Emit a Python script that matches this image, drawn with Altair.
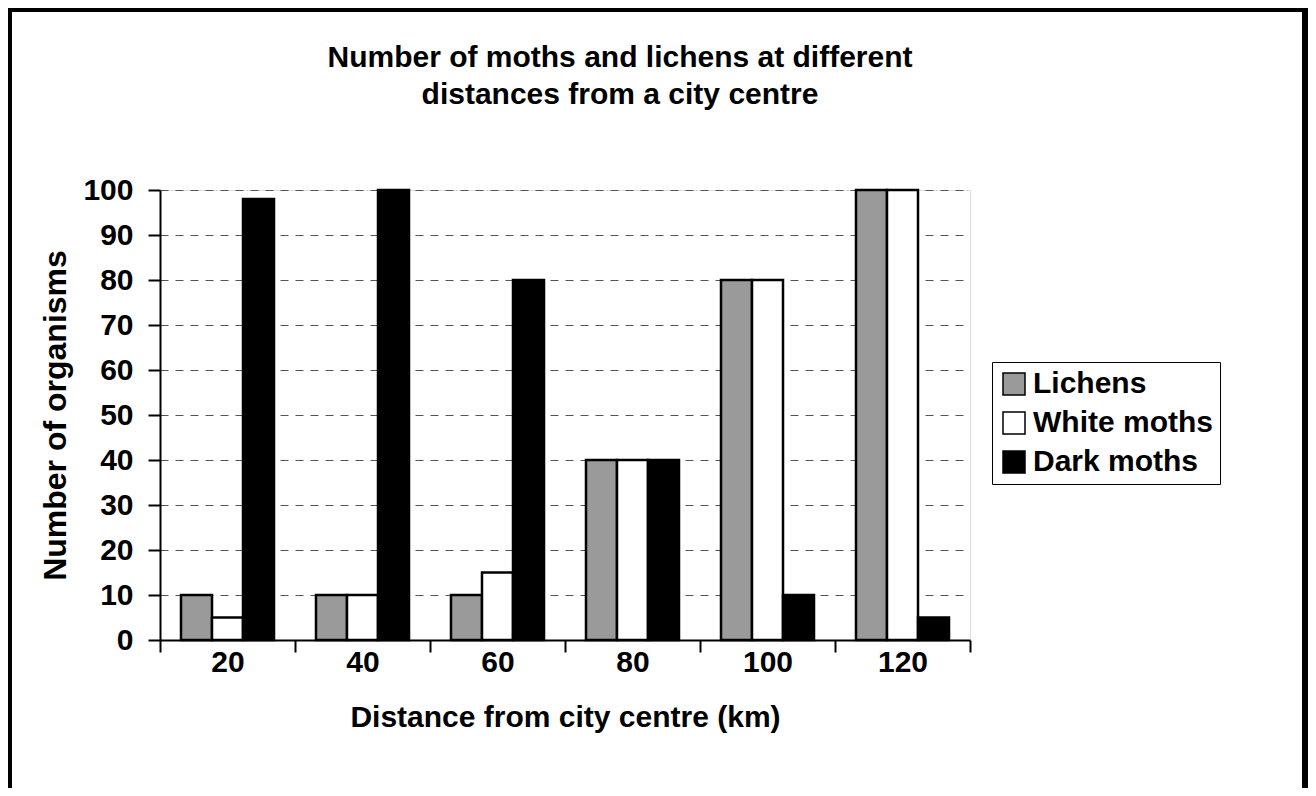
import altair as alt
import pandas as pd

distances = ["20", "40", "60", "80", "100", "120"]
series = ["Lichens", "White moths", "Dark moths"]
lichens = [10, 10, 10, 40, 80, 100]
white_moths = [5, 10, 15, 40, 80, 100]
dark_moths = [98, 100, 80, 40, 10, 5]
y_ticks = [0, 10, 20, 30, 40, 50, 60, 70, 80, 90, 100]
colors = ["#9a9a9a", "#ffffff", "#000000"]

rows = []
for name, vals in zip(series, [lichens, white_moths, dark_moths]):
    for d, v in zip(distances, vals):
        rows.append({"distance": d, "series": name, "value": v})
df = pd.DataFrame(rows)

FONT = "Liberation Sans"
FS = 30

frame = alt.Chart(alt.Data(values=[{}])).mark_rect(
    fillOpacity=0, stroke="black", strokeWidth=6, clip=False
).encode(
    x=alt.value(-151), x2=alt.value(1145), y=alt.value(-181), y2=alt.value(700)
)

bars = alt.Chart(df).mark_bar(stroke="black", strokeWidth=2.5).encode(
    x=alt.X(
        "distance:N",
        sort=distances,
        scale=alt.Scale(paddingInner=0, paddingOuter=0),
        axis=alt.Axis(
            title="Distance from city centre (km)",
            labelAngle=0,
            tickBand="extent",
            tickSize=12,
            tickWidth=2,
            tickColor="black",
            domainColor="black",
            domainWidth=2,
            labelFont=FONT,
            labelFontSize=FS,
            labelFontWeight="bold",
            labelColor="black",
            labelPadding=-5,
            titleFont=FONT,
            titleFontSize=FS,
            titleFontWeight="bold",
            titleColor="black",
            titleBaseline="middle",
            titleY=77,
        ),
    ),
    xOffset=alt.XOffset(
        "series:N", sort=series, scale=alt.Scale(paddingOuter=0.677, paddingInner=0)
    ),
    y=alt.Y(
        "value:Q",
        scale=alt.Scale(domain=[0, 100], nice=False),
        axis=alt.Axis(
            title="Number of organisms",
            values=y_ticks,
            grid=True,
            gridDash=[8, 7],
            gridColor="#555555",
            gridWidth=1,
            tickSize=12,
            tickWidth=2,
            tickColor="black",
            domainColor="black",
            domainWidth=2,
            labelFont=FONT,
            labelFontSize=FS,
            labelFontWeight="bold",
            labelColor="black",
            labelPadding=15,
            titleFont=FONT,
            titleFontSize=32,
            titleFontWeight="bold",
            titleColor="black",
            titleAngle=-90,
            titleBaseline="middle",
            titleX=-105,
            titleY=225,
        ),
    ),
    color=alt.Color(
        "series:N",
        sort=series,
        scale=alt.Scale(domain=series, range=colors),
        legend=alt.Legend(
            title=None,
            orient="none",
            legendX=832,
            legendY=172,
            strokeColor="black",
            padding=7,
            symbolType="square",
            symbolSize=484,
            symbolStrokeColor="black",
            symbolStrokeWidth=1.5,
            symbolOpacity=1,
            labelFont=FONT,
            labelFontSize=FS,
            labelFontWeight="bold",
            labelColor="black",
            labelOffset=4,
            labelLimit=400,
            rowPadding=9,
        ),
    ),
)

chart = alt.layer(frame, bars).properties(
    width=810,
    height=450,
    padding={"left": 152, "top": 182, "right": 338, "bottom": 148},
    autosize=alt.AutoSizeParams(type="none"),
    title=alt.TitleParams(
        text=["Number of moths and lichens at different", "distances from a city centre"],
        font=FONT,
        fontSize=FS,
        fontWeight="bold",
        color="black",
        anchor="middle",
        baseline="alphabetic",
        dx=55,
        dy=128,
        lineHeight=37,
        offset=0,
    ),
).configure_view(strokeOpacity=0).configure_legend(strokeWidth=2).configure(
    background="white"
)

chart.save("out.html", embed_options={"renderer": "svg", "actions": False})
